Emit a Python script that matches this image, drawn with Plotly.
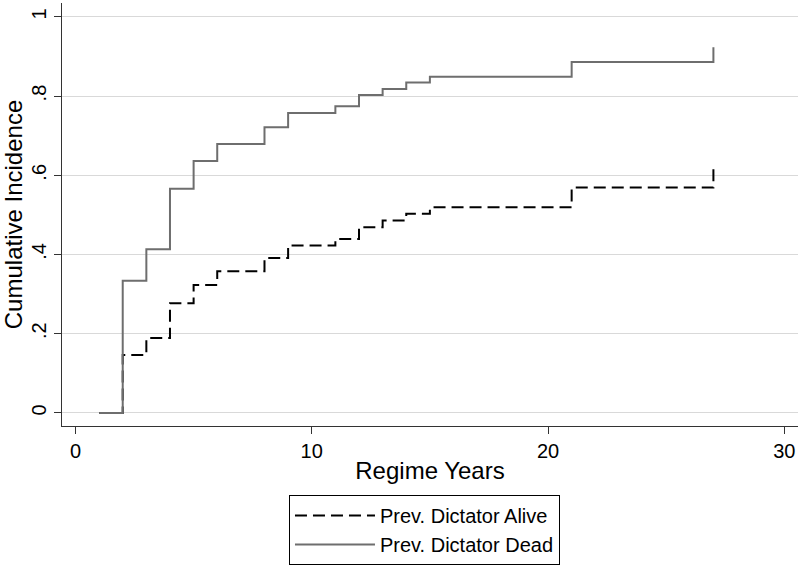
import plotly.graph_objects as go

years = list(range(1, 28))
alive = [0.0, 0.146, 0.189, 0.277, 0.323, 0.358, 0.358, 0.391, 0.423, 0.423,
         0.439, 0.469, 0.486, 0.503, 0.519, 0.519, 0.519, 0.519, 0.519, 0.519,
         0.569, 0.569, 0.569, 0.569, 0.569, 0.569, 0.629]
dead = [0.0, 0.334, 0.413, 0.566, 0.636, 0.679, 0.679, 0.721, 0.757, 0.757,
        0.774, 0.803, 0.818, 0.834, 0.849, 0.849, 0.849, 0.849, 0.849, 0.849,
        0.886, 0.886, 0.886, 0.886, 0.886, 0.886, 0.923]
y_tickvals = [0, 0.2, 0.4, 0.6, 0.8, 1.0]
y_ticktext = ["0", ".2", ".4", ".6", ".8", "1"]
x_tickvals = [0, 10, 20, 30]

FONT = "Liberation Sans, Arial, Helvetica, sans-serif"

fig = go.Figure()
fig.add_trace(go.Scatter(x=years, y=alive, mode="lines", line_shape="hv",
                         name="Prev. Dictator Alive",
                         line=dict(color="#000000", width=2, dash="12px,6px")))
fig.add_trace(go.Scatter(x=years, y=dead, mode="lines", line_shape="hv",
                         name="Prev. Dictator Dead",
                         line=dict(color="#6e6e6e", width=2)))

fig.update_layout(
    width=798, height=566,
    margin=dict(l=62, r=0, t=3, b=140, autoexpand=False),
    paper_bgcolor="white", plot_bgcolor="white",
    font=dict(family=FONT, size=20, color="#000000"),
    showlegend=True,
    legend=dict(x=0.4925, xanchor="center", y=-0.163, yanchor="top",
                bordercolor="#000000", borderwidth=1, bgcolor="white",
                font=dict(size=20), tracegroupgap=0, itemwidth=80),
    xaxis=dict(range=[-0.57, 30.58], tickvals=x_tickvals, ticks="outside",
               ticklen=7, tickwidth=1.3, tickcolor="#333333",
               showline=True, linecolor="#333333", linewidth=1.3,
               showgrid=False, zeroline=False, automargin=False,
               title=dict(text="Regime Years", standoff=1)),
    yaxis=dict(range=[-0.033, 1.035], tickvals=y_tickvals, ticktext=y_ticktext,
               tickangle=-90, ticks="outside", ticklen=7, tickwidth=1.3,
               tickcolor="#333333", showline=True, linecolor="#333333",
               linewidth=1.3, showgrid=True, gridcolor="#d9d9d9", gridwidth=1.3,
               zeroline=False, automargin=False,
               title=dict(text="Cumulative Incidence", standoff=6)),
)

fig.write_html("out.html",
               config={"displayModeBar": False},
               post_script="document.body.style.margin='0';document.body.style.overflow='hidden';")
